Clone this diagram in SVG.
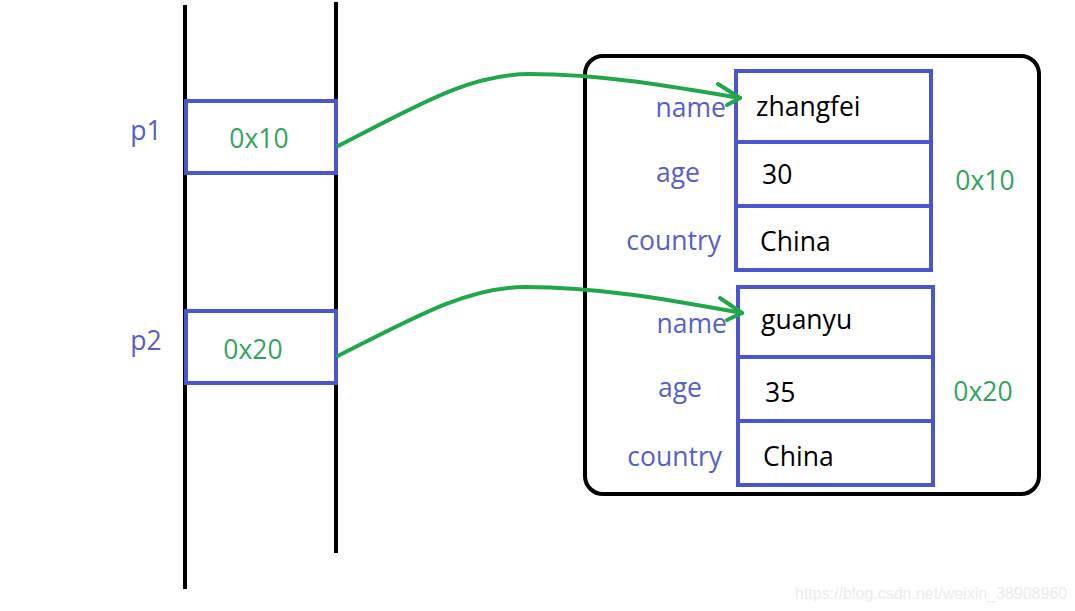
<svg xmlns="http://www.w3.org/2000/svg" width="1075" height="611" viewBox="0 0 1075 611">
<style>
.stack{stroke:#000;stroke-width:4;fill:none}
.cell{fill:#fff;stroke:#4b56cc;stroke-width:4}
.lbl{font-family:"Open Sans","Noto Sans",sans-serif;font-size:26.5px;fill:#5560cc}
.addr{font-family:"Open Sans","Noto Sans",sans-serif;font-size:26.5px;fill:#35a35f}
.val{font-family:"Open Sans","Noto Sans",sans-serif;font-size:26.5px;fill:#000}
.conn{fill:none;stroke:#22a64c;stroke-width:4;stroke-linecap:round;stroke-linejoin:round}
</style>
<rect width="1075" height="611" fill="#fff"/>
<g id="stack">
<line class="stack" x1="185" y1="5" x2="185" y2="589"/>
<line class="stack" x1="336" y1="2" x2="336" y2="553"/>
</g>
<g id="p1">
<rect class="cell" x="186" y="101" width="150" height="72"/>
<text class="addr" x="259" y="148" text-anchor="middle">0x10</text>
<text class="lbl" x="146" y="140" text-anchor="middle">p1</text>
</g>
<g id="p2">
<rect class="cell" x="186" y="311" width="150" height="72"/>
<text class="addr" x="253" y="359" text-anchor="middle">0x20</text>
<text class="lbl" x="146" y="350" text-anchor="middle">p2</text>
</g>
<g id="heap">
<rect x="585" y="56" width="454" height="438" rx="18" fill="none" stroke="#000" stroke-width="4"/>
</g>
<g id="obj1">
<rect class="cell" x="736" y="71" width="195" height="71"/>
<rect class="cell" x="736" y="142" width="195" height="64"/>
<rect class="cell" x="736" y="206" width="195" height="64"/>
<text class="lbl" x="726" y="117" text-anchor="end">name</text>
<text class="lbl" x="678" y="182" text-anchor="middle">age</text>
<text class="lbl" x="721" y="250" text-anchor="end">country</text>
<text class="val" x="756" y="116">zhangfei</text>
<text class="val" x="762" y="184">30</text>
<text class="val" x="760" y="251">China</text>
<text class="addr" x="985" y="190" text-anchor="middle">0x10</text>
</g>
<g id="obj2">
<rect class="cell" x="738" y="287" width="195" height="70"/>
<rect class="cell" x="738" y="357" width="195" height="64"/>
<rect class="cell" x="738" y="421" width="195" height="64"/>
<text class="lbl" x="727" y="333" text-anchor="end">name</text>
<text class="lbl" x="680" y="397" text-anchor="middle">age</text>
<text class="lbl" x="722" y="466" text-anchor="end">country</text>
<text class="val" x="761" y="329">guanyu</text>
<text class="val" x="765" y="402">35</text>
<text class="val" x="763" y="466">China</text>
<text class="addr" x="983" y="401" text-anchor="middle">0x20</text>
</g>
<g id="connectors">
<path class="conn" d="M338,146 C 420,104 470,74 530,74 C 600,74 670,86 740,98"/>
<path class="conn" d="M718,84 L740,98 L727,105"/>
<path class="conn" d="M338,356 C 420,314 470,287 525,287 C 600,287 670,300 742,313"/>
<path class="conn" d="M720,298 L742,313 L727,320"/>
</g>
<text x="795" y="599" font-family="Liberation Sans, Arial, sans-serif" font-size="16" fill="#ececec">https://blog.csdn.net/weixin_38908960</text>
</svg>
